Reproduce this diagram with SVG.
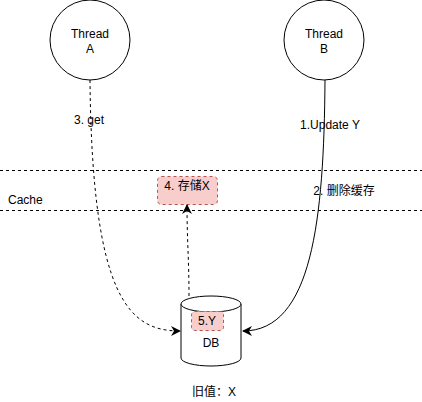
<svg xmlns="http://www.w3.org/2000/svg" width="422" height="402" viewBox="0 0 422 402">
<style>
text{font-family:"Liberation Sans",Arial,"Noto Sans CJK SC",sans-serif;font-size:12px;fill:#000}
.c{text-anchor:middle}
.node{fill:#fff;stroke:#000;stroke-width:1}
.hl{fill:#f8cecc;stroke:#b85450;stroke-dasharray:3,3}
.dash{fill:none;stroke:#000;stroke-dasharray:3,3}
.solid{fill:none;stroke:#000}
</style>
<defs>
<marker id="arr" viewBox="0 0 10 10" refX="9" refY="5" markerWidth="10" markerHeight="10" markerUnits="userSpaceOnUse" orient="auto">
<path d="M0,0 L10,5 L0,10 L3,5 Z" fill="#000"/>
</marker>
</defs>
<g id="lanes">
<line x1="0" y1="170.5" x2="422" y2="170.5" class="dash"/>
<line x1="0" y1="210.5" x2="422" y2="210.5" class="dash"/>
<text x="8" y="204">Cache</text>
</g>
<g id="threadA">
<circle cx="90" cy="40" r="40" class="node"/>
<text x="90" y="38" class="c">Thread</text>
<text x="90" y="53" class="c">A</text>
</g>
<g id="threadB">
<circle cx="324" cy="40" r="40" class="node"/>
<text x="324" y="38" class="c">Thread</text>
<text x="324" y="53" class="c">B</text>
</g>
<g id="db">
<path d="M181,304 A30,8 0 0 1 241,304 L241,358 A30,8 0 0 1 181,358 Z" class="node"/>
<path d="M181,304 A30,8 0 0 0 241,304" class="node" fill="none"/>
<text x="211" y="347" class="c">DB</text>
</g>
<g id="store">
<rect x="157.5" y="176.5" width="60" height="28" rx="4" class="hl"/>
<text x="187" y="190" class="c">4. 存储X</text>
</g>
<g id="val">
<rect x="191.5" y="311.5" width="32" height="19" rx="3" class="hl"/>
<text x="207" y="325" class="c">5.Y</text>
</g>
<g id="connectors">
<path d="M90,80 C92,300 130,331 180,331" class="dash" marker-end="url(#arr)"/>
<path d="M325,80 C324,220 312,331 243,331" class="solid" marker-end="url(#arr)"/>
<path d="M189,296 C189,260 187,240 187,205" class="dash" marker-end="url(#arr)"/>
</g>
<g id="labels">
<text x="89" y="124" class="c">3. get</text>
<text x="330" y="129" class="c">1.Update Y</text>
<text x="344" y="195" class="c">2. 删除缓存</text>
<text x="214" y="396" class="c">旧值：X</text>
</g>
</svg>
